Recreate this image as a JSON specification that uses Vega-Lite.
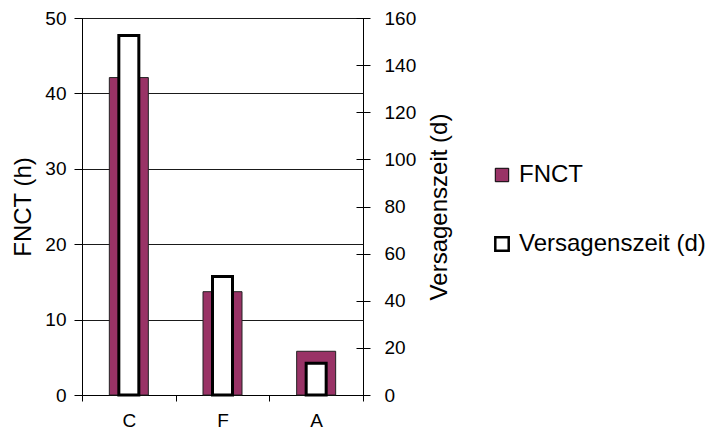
{
  "$schema": "https://vega.github.io/schema/vega-lite/v6.json",
  "width": 281,
  "height": 377,
  "autosize": {"type": "none"},
  "padding": {"left": 82, "top": 18, "right": 348, "bottom": 37},
  "background": "white",
  "config": {
    "font": "Liberation Sans",
    "view": {"stroke": "#000", "strokeWidth": 1},
    "axis": {
      "labelFont": "Liberation Sans",
      "titleFont": "Liberation Sans",
      "labelFontSize": 19,
      "labelColor": "#000",
      "titleFontSize": 24,
      "titleFontWeight": "normal",
      "titleColor": "#000",
      "domainColor": "#000",
      "tickColor": "#000",
      "gridColor": "#1a1a1a",
      "gridOpacity": 1
    },
    "legend": {"labelFont": "Liberation Sans"}
  },
  "data": {
    "values": [
      {"cat": "C", "series": "FNCT", "value": 42.1},
      {"cat": "F", "series": "FNCT", "value": 13.7},
      {"cat": "A", "series": "FNCT", "value": 5.8},
      {"cat": "C", "series": "Versagenszeit (d)", "value": 152.6},
      {"cat": "F", "series": "Versagenszeit (d)", "value": 50.3},
      {"cat": "A", "series": "Versagenszeit (d)", "value": 13.5}
    ]
  },
  "encoding": {
    "x": {
      "field": "cat",
      "type": "nominal",
      "sort": ["C", "F", "A"],
      "scale": {"paddingInner": 0, "paddingOuter": 0},
      "axis": {
        "title": null,
        "labelAngle": 0,
        "tickBand": "extent",
        "tickSize": 6,
        "labelPadding": 10,
        "grid": false
      }
    },
    "color": {
      "field": "series",
      "type": "nominal",
      "scale": {"domain": ["FNCT", "Versagenszeit (d)"], "range": ["#993366", "#ffffff"]},
      "legend": {
        "orient": "none",
        "legendX": 408,
        "legendY": 145,
        "title": null,
        "padding": 0,
        "labelFontSize": 24,
        "labelColor": "#000",
        "labelOffset": 5,
        "labelLimit": 400,
        "symbolType": "square",
        "symbolSize": 180,
        "symbolStrokeColor": "#000",
        "symbolStrokeWidth": 1.5,
        "rowPadding": 45,
        "encode": {
          "symbols": {
            "update": {
              "strokeWidth": {"signal": "datum.value === 'FNCT' ? 1 : 2.5"},
              "stroke": {"value": "#000"}
            }
          }
        }
      }
    }
  },
  "layer": [
    {
      "transform": [{"filter": "datum.series === 'FNCT'"}],
      "mark": {"type": "bar", "size": 39, "stroke": "#222", "strokeWidth": 1},
      "encoding": {
        "y": {
          "field": "value",
          "type": "quantitative",
          "scale": {"domain": [0, 50]},
          "axis": {
            "orient": "left",
            "title": "FNCT (h)",
            "values": [0, 10, 20, 30, 40, 50],
            "grid": true,
            "tickSize": 8,
            "labelPadding": 8,
            "titlePadding": 9
          }
        }
      }
    },
    {
      "transform": [{"filter": "datum.series === 'Versagenszeit (d)'"}],
      "mark": {"type": "bar", "size": 20, "stroke": "#000", "strokeWidth": 3},
      "encoding": {
        "y": {
          "field": "value",
          "type": "quantitative",
          "scale": {"domain": [0, 160]},
          "axis": {
            "orient": "right",
            "title": "Versagenszeit (d)",
            "titleAngle": 270,
            "titleBaseline": "top",
            "values": [0, 20, 40, 60, 80, 100, 120, 140, 160],
            "grid": false,
            "domain": false,
            "offset": -7,
            "tickSize": 14,
            "labelPadding": 14,
            "titlePadding": 12
          }
        }
      }
    }
  ],
  "resolve": {"scale": {"y": "independent"}}
}
